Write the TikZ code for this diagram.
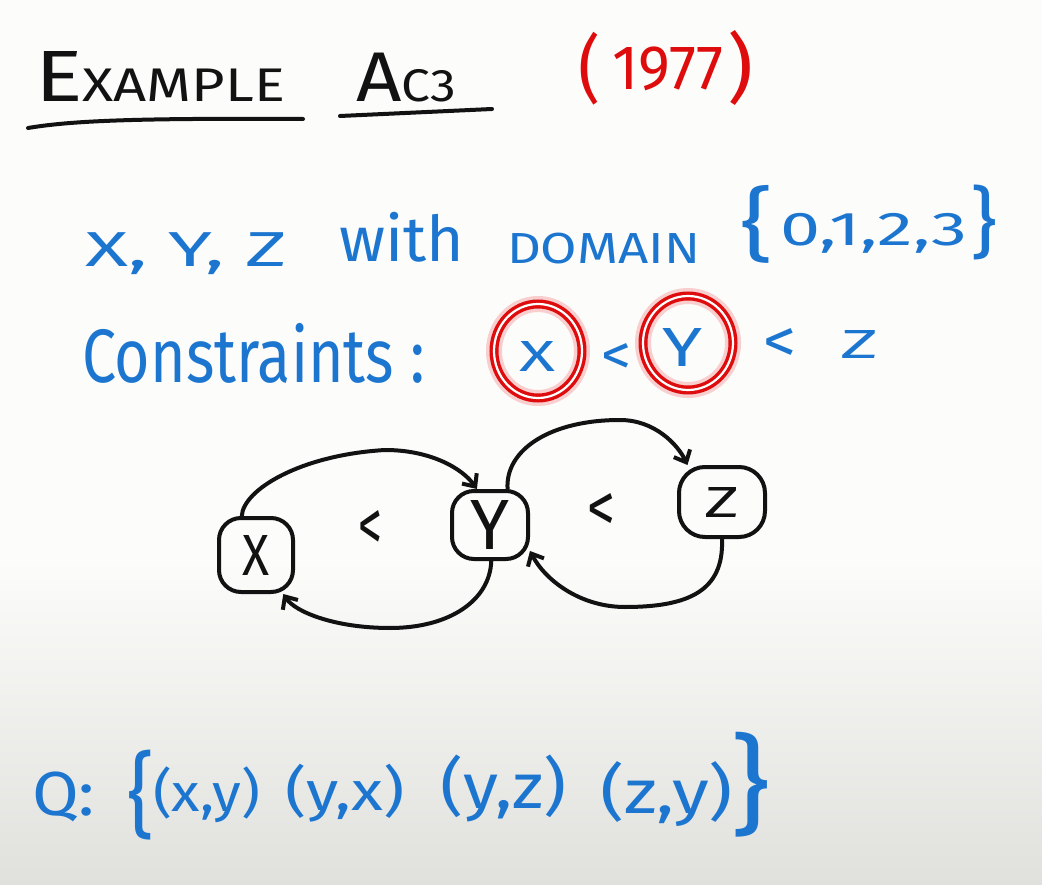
\documentclass[tikz,border=0pt]{standalone}
\usepackage{fontspec}
\setmainfont{Fira Sans}
\usetikzlibrary{arrows.meta,shapes.geometric}
\definecolor{inkblue}{RGB}{28,118,208}
\definecolor{inkred}{RGB}{222,12,12}
\definecolor{ink}{RGB}{18,18,18}
\definecolor{paper}{RGB}{252,252,250}
\definecolor{paperlow}{RGB}{224,224,221}
\newcommand\fitbox[3]{\resizebox*{#1pt}{#2pt}{#3}}
\begin{document}
\begin{tikzpicture}[x=1pt,y=-1pt,
  font=\fontsize{40}{48}\selectfont,
  t/.style={inner sep=0pt, outer sep=0pt, anchor=north west},
  blacktxt/.style={t, text=ink},
  bluetxt/.style={t, text=inkblue},
  redtxt/.style={t, text=inkred},
  gnode/.style={rectangle, draw=ink, line width=4pt, rounded corners=22pt, inner sep=0pt, text=ink},
  arr/.style={draw=ink, line width=4pt, line cap=round,
    -{Straight Barb[length=10pt,width=18pt]}},
  pen/.style={draw=ink, line width=4pt, line cap=round},
  redring/.style={ellipse, draw=inkred, line width=3.4pt, double=white, double distance=2.2pt, inner sep=0pt},
  glow/.style={draw=inkred!20, line width=16pt}
]
\useasboundingbox (0,0) rectangle (1042,885);
\fill[paper] (0,0) rectangle (1042,560);
\shade[top color=paper, bottom color=paperlow] (0,560) rectangle (1042,885);

% heading
\node[blacktxt] (ex) at (35,52) {\fitbox{250}{50}{E{\fontsize{26}{26}\selectfont XAMPLE}}};
\node[blacktxt] (ac) at (356,53) {\fitbox{100}{49}{A{\fontsize{26}{26}\selectfont C3}}};
\draw[pen] (28,128) .. controls (70,121) and (130,118) .. (303,119);
\draw[pen] (340,116) -- (492,109);
\node[redtxt] (lp) at (578,32) {\fitbox{22}{73}{(}};
\node[redtxt] (yr) at (612,47) {\fitbox{111}{44}{1977}};
\node[redtxt] (rp) at (727,30) {\fitbox{26}{75}{)}};

% line 2
\node[bluetxt] (vars) at (85,233) {\fitbox{202}{42}{X, Y, Z}};
\node[bluetxt] (with) at (339,212) {\fitbox{125}{50}{with}};
\node[bluetxt] (dom) at (507,233) {\fitbox{193}{31}{DOMAIN}};
\node[bluetxt] (lb) at (740,185) {\fitbox{33}{78}{\{}};
\node[bluetxt] (dig) at (780,213) {\fitbox{187}{40}{0,1,2,3}};
\node[bluetxt] (rb) at (970,185) {\fitbox{27}{75}{\}}};

% line 3
\node[bluetxt] (cons) at (82,323) {\fitbox{343}{60}{Constraints :}};
\draw[glow] (538,351) ellipse [x radius=44pt, y radius=47pt];
\draw[glow] (688,343) ellipse [x radius=45pt, y radius=47pt];
\node[redring, minimum width=88pt, minimum height=94pt] (cx) at (538,351) {};
\node[redring, minimum width=90pt, minimum height=94pt] (cy) at (688,343) {};
\node[bluetxt] (lx) at (519,341) {\fitbox{36}{30}{X}};
\node[bluetxt] (lt1) at (601,343) {\fitbox{30}{31}{<}};
\node[bluetxt] (ly) at (662,328) {\fitbox{40}{38}{Y}};
\node[bluetxt] (lt2) at (763,328) {\fitbox{33}{34}{<}};
\node[bluetxt] (lz) at (840,330) {\fitbox{38}{28}{Z}};

% graph
\node[gnode, minimum width=74pt, minimum height=74pt] (X) at (256,555) {\fitbox{27}{40}{X}};
\node[gnode, minimum width=76pt, minimum height=68pt] (Y) at (490,525) {\fitbox{39}{49}{Y}};
\node[gnode, minimum width=86pt, minimum height=70pt, rounded corners=26pt] (Z) at (722,502) {\fitbox{35}{30}{Z}};
\node[blacktxt] (op1) at (358,510) {\fitbox{24}{40}{<}};
\node[blacktxt] (op2) at (587,493) {\fitbox{28}{38}{<}};

\draw[arr] (X.110) .. controls (243,490) and (300,455) .. (385,450)
  .. controls (430,450) and (462,468) .. (Y.110);
\draw[arr] (Y.-88) .. controls (490,600) and (450,628) .. (390,628)
  .. controls (335,628) and (295,612) .. (X.-55);
\draw[arr] (Y.64) .. controls (505,450) and (550,420) .. (620,420)
  .. controls (655,420) and (678,445) .. (Z.133);
\draw[arr] (Z.-90) .. controls (724,590) and (690,607) .. (625,607)
  .. controls (580,607) and (545,580) .. (Y.-33);

% Q line
\node[bluetxt] (q) at (32,772) {\fitbox{63}{50}{Q:}};
\node[bluetxt] (qlb) at (127,750) {\fitbox{27}{90}{\{}};
\node[bluetxt] (p1) at (153,767) {\fitbox{107}{56}{(x,y)}};
\node[bluetxt] (p2) at (285,764) {\fitbox{120}{58}{(y,x)}};
\node[bluetxt] (p3) at (440,755) {\fitbox{127}{67}{(y,z)}};
\node[bluetxt] (p4) at (600,762) {\fitbox{133}{65}{(z,y)}};
\node[bluetxt] (qrb) at (730,732) {\fitbox{40}{105}{\}}};
\end{tikzpicture}
\end{document}
